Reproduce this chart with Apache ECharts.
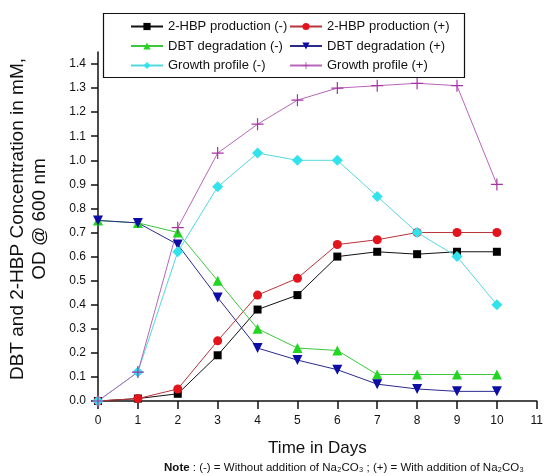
<!DOCTYPE html>
<html>
<head>
<meta charset="utf-8">
<script src="https://cdn.jsdelivr.net/npm/echarts@6/dist/echarts.min.js"></script>
<style>
html,body{margin:0;padding:0;background:#fff;}
#main{width:546px;height:476px;}
</style>
</head>
<body>
<div id="main"></div>
<script>
// time points (days)
var days = [0, 1, 2, 3, 4, 5, 6, 7, 8, 9, 10];

// concentrations
var hbpMinus    = [0, 0.01, 0.03, 0.19, 0.38, 0.44, 0.60, 0.62, 0.61, 0.62, 0.62];
var hbpPlus     = [0, 0.01, 0.05, 0.25, 0.44, 0.51, 0.65, 0.67, 0.70, 0.70, 0.70];
var dbtMinus    = [0.75, 0.74, 0.70, 0.50, 0.30, 0.22, 0.21, 0.11, 0.11, 0.11, 0.11];
var dbtPlus     = [0.75, 0.74, 0.65, 0.43, 0.22, 0.17, 0.13, 0.07, 0.05, 0.04, 0.04];
var growthMinus = [0, 0.12, 0.62, 0.89, 1.03, 1.00, 1.00, 0.85, 0.70, 0.60, 0.40];
var growthPlus  = [0, 0.12, 0.72, 1.03, 1.15, 1.25, 1.30, 1.31, 1.32, 1.31, 0.90];

// axis ticks
var yTicks = [0, 0.1, 0.2, 0.3, 0.4, 0.5, 0.6, 0.7, 0.8, 0.9, 1.0, 1.1, 1.2, 1.3, 1.4];
var xTicks = [0, 1, 2, 3, 4, 5, 6, 7, 8, 9, 10, 11];

var plusSymbol = 'path://M9,0h2v9h9v2h-9v9h-2v-9h-9v-2h9z';

function pairs(vals){
    return days.map(function(d, i){ return [d, vals[i]]; });
}

function line(name, vals, symbol, size, color, lineColor){
    return {
        name: name,
        type: 'line',
        data: pairs(vals),
        symbol: symbol,
        symbolSize: size,
        showAllSymbol: true,
        animation: false,
        itemStyle: {color: color},
        lineStyle: {color: lineColor, width: 1}
    };
}

var font = 'Arial, "Liberation Sans", sans-serif';

var legendBase = {
    orient: 'vertical',
    top: 20,
    padding: 0,
    itemWidth: 32, itemHeight: 9, itemGap: 6.5,
    textStyle: {fontSize: 13, color: '#111', fontFamily: font}
};

var option = {
    backgroundColor: '#fff',
    textStyle: {fontFamily: font},
    grid: {left: 98, right: 6, top: 52, bottom: 75},
    legend: [
        Object.assign({}, legendBase, {left: 130,
            data: ['2-HBP production (-)', 'DBT degradation (-)', 'Growth profile (-)']}),
        Object.assign({}, legendBase, {left: 289,
            data: ['2-HBP production (+)', 'DBT degradation (+)', 'Growth profile (+)']})
    ],
    xAxis: {
        type: 'value',
        min: 0, max: 11, interval: 1,
        name: 'Time in Days',
        nameLocation: 'middle',
        nameGap: 39,
        nameTextStyle: {fontSize: 17, color: '#111', fontFamily: font},
        axisLine: {lineStyle: {color: '#111', width: 1.5}},
        axisTick: {length: 8, lineStyle: {color: '#111', width: 1.5}, customValues: xTicks},
        axisLabel: {fontSize: 12, color: '#111', margin: 14, customValues: xTicks},
        splitLine: {show: false}
    },
    yAxis: {
        type: 'value',
        min: 0, max: 1.45,
        axisLine: {show: true, lineStyle: {color: '#111', width: 1.5}},
        axisTick: {show: true, length: 7, lineStyle: {color: '#111', width: 1.5}, customValues: yTicks},
        axisLabel: {fontSize: 12, color: '#111', margin: 12, customValues: yTicks,
            formatter: function(v){ return v.toFixed(1); }},
        splitLine: {show: false}
    },
    graphic: [{
        type: 'rect',
        shape: {x: 103.5, y: 13.5, width: 361, height: 64},
        style: {fill: 'none', stroke: '#111', lineWidth: 1.2},
        z: 100
    }, {
        type: 'text',
        x: 29, y: 219,
        rotation: Math.PI / 2,
        style: {
            text: 'DBT and 2-HBP Concentration in mM,\nOD @ 600 nm',
            font: '19px ' + font,
            fill: '#111',
            align: 'center',
            verticalAlign: 'middle',
            lineHeight: 22
        }
    }, {
        type: 'text',
        x: 344, y: 468,
        style: {
            text: '{b|Note} : (-) = Without addition of Na\u2082CO\u2083 ; (+) = With addition of Na\u2082CO\u2083',
            font: '11.5px ' + font,
            fill: '#111',
            align: 'center',
            verticalAlign: 'middle',
            rich: {b: {fontWeight: 'bold', fontSize: 11.5, fontFamily: font}}
        }
    }],
    series: [
        line('2-HBP production (-)', hbpMinus, 'rect', 8, '#000', '#111'),
        line('2-HBP production (+)', hbpPlus, 'circle', 9, '#e3141c', '#b8333a'),
        line('DBT degradation (-)', dbtMinus, 'triangle', 10, '#22d622', '#3cc83c'),
        line('DBT degradation (+)', dbtPlus, 'path://M0,0L10,0L5,9z', 10, '#0c0ca6', '#2a2a8c'),
        line('Growth profile (-)', growthMinus, 'diamond', 11, '#33e3ec', '#52d8de'),
        line('Growth profile (+)', growthPlus, plusSymbol, 12, '#a632a6', '#b866b8')
    ]
};

echarts.init(document.getElementById('main')).setOption(option);
</script>
</body>
</html>
